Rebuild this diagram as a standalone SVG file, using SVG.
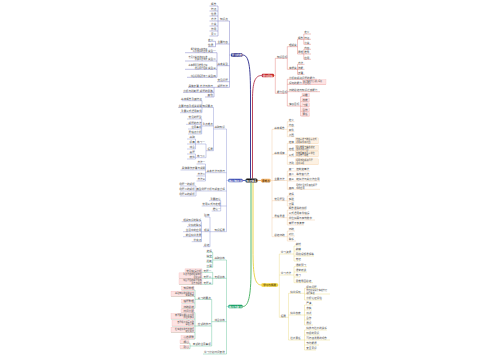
<svg xmlns="http://www.w3.org/2000/svg" width="500" height="360" viewBox="0 0 500 360">
<style>
text{font-family:"Noto Sans CJK SC","Noto Sans",sans-serif;font-size:2.6px;fill:#4a4a4a}
.e{text-anchor:end}
.s{font-size:2.1px}
.w{fill:#fff;font-weight:bold;text-anchor:middle}
.dk{fill:#6b3d0a}
.c path{fill:none;stroke-width:.35}
.c .m{stroke-width:.9}
.pk{fill:#fde3e3;stroke:#f2a5a5;stroke-width:.25}
.ob{fill:#fdf1e2;stroke:#f3cc9c;stroke-width:.25}
</style>
<rect width="500" height="360" fill="#fff"/>
<g id="connectors" class="c">
<path class="m" stroke="#28288a" d="M250.5,178.6V95C250.5,66 249,55 242.5,55"/>
<path class="m" stroke="#b5334a" d="M252.5,178.6V100C252.5,82 255,75.5 261.7,75.5"/>
<path class="m" stroke="#3fae5a" d="M251,182.4V270C251,298 248,306.5 242.7,306.5"/>
<path class="m" stroke="#e8cf3a" d="M253,182.4V250C253,276 255,285 261.3,285"/>
<path class="m" stroke="#3f51b5" d="M245.5,180.5H242.7"/>
<path class="m" stroke="#f3b46a" d="M257.5,180.5H261"/>
<path stroke="#4b4bb0" d="M231,55H229.5M229.5,21V87.3M229.5,21H218M218,6V36M218,6H209.5M218,11H209.5M218,16H209.5M218,21H209.5M218,26H209.5M218,31H209.5M218,36H209.5M229.5,44H215.5M215.5,41.3V46.7M215.5,41.3H208M215.5,46.7H208M229.5,65.7H217M217,52.7V77.3M217,52.7H185M217,61H185M217,69.3H185M217,77.3H187M229.5,81.7H217M229.5,87.3H214M214,87.3V97M214,87.3H188M214,92.3H183M214,97H205"/>
<path stroke="#6b78c9" d="M228.3,180.5H226.5M226.5,129V231.7M226.5,129H213.5M213.5,107.3V150.7M213.5,107.3H202M202,100.7V112.7M202,100.7H181.7M202,107.3H178M202,112.7H180M213.5,126H201.7M201.7,119V134M201.7,119H187M201.7,124.3H186M201.7,129H188M201.7,134H188M213.5,150.7H206M206,144V157.7M206,144H187M206,157.7H195.5M195.5,139V149M195.5,139H187M195.5,149H187M195.5,154V159M195.5,154H187M195.5,159H187M226.5,172.7H205.5M205.5,164V181M205.5,164H196.5M205.5,170H180.5M205.5,176H196.5M205.5,181H196.5M226.5,191H196M196,186V196M196,186H180M196,191H180M196,196H180M226.5,206H220.7M220.7,200.7V211M220.7,200.7H209M220.7,206H201.7M220.7,211H211.7M226.5,231.7H210M210,217V246.7M210,217H205M210,231.7H201.5M201.5,221.7V241.7M201.5,221.7H181.7M201.5,226.7H187M201.5,231.7H183M201.5,236.7H183M201.5,241.7H191.7M210,246.7H203"/>
<path stroke="#35b07a" d="M228.3,306.5H226.5M226.5,260V354M226.5,260H212.7M212.7,252.3V267.3M212.7,252.3H206.5M212.7,257.3H206.5M212.7,262.3H206.5M212.7,267.3H206.5M226.5,278.3H212.7M212.7,272.3V284.3M212.7,272.3H185M212.7,278.3H179M212.7,284.3H179M226.5,321.7H211.7M211.7,299.3V346M211.7,299.3H195M195,290V308.3M195,290H181.7M195,296.5H171M195,303H181.7M195,308.3H181.7M211.7,326H195M195,312.7V339M195,312.7H181M195,319H171M195,326H172M195,332.5H171M195,339H181M211.7,346H190M190,343.3V348.7M190,343.3H180M190,348.7H180M226.5,354H203"/>
<path stroke="#d9534f" d="M274,75.5H275.3M275.3,58.3V93.3M275.3,58.3H287.3M287.3,46.7V69.3M287.3,46.7H297.5M297.5,39.3V54M297.5,39.3H303.8M303.8,34V44.3M303.8,34H311M303.8,39.3H311M303.8,44.3H311M297.5,54H303.8M303.8,49.3V59.3M303.8,49.3H311M303.8,54H311M303.8,59.3H311M287.3,69.3H297.5M297.5,64.3V74.3M297.5,64.3H304.5M297.5,69.3H304.5M297.5,74.3H304.5M275.3,93.3H287.3M287.3,79.3V106M287.3,79.3H317M287.3,84.3H326M287.3,91.7H320M287.3,106H300.7M300.7,96.7V116M300.7,96.7H309.5M300.7,101.7H309.5M300.7,106.3H309.5M300.7,111.3H309.5M300.7,116H309.5"/>
<path stroke="#f0bd85" d="M270.7,180.5H272M272,129.3V236.7M272,129.3H287.3M287.3,121.7V136.7M287.3,121.7H294.5M287.3,126.7H294.5M287.3,131.7H294.5M287.3,136.7H294.5M272,154.3H287.3M287.3,143.3V164.3M287.3,143.3H318.5M287.3,150.7H318.5M287.3,156.7H318.5M287.3,164.3H318.5M272,180.5H287.3M287.3,171V189.3M287.3,171H310M287.3,176H310M287.3,181H320M287.3,189.3H320M272,200.7H287.3M287.3,196V206M287.3,196H294.5M287.3,201H294.5M287.3,206H294.5M272,217.7H287.3M287.3,210V225M287.3,210H306M287.3,215H309M287.3,220H315M287.3,225H304M272,236.7H287.3M287.3,231V241M287.3,231H295M287.3,236H295M287.3,241H296"/>
<path stroke="#e6d260" d="M278,285H279.3M279.3,254V317.3M279.3,254H294M294,246V261M294,246H301M294,251H301M294,256H314M294,261H300M279.3,275H294M294,266.7V282.7M294,266.7H307M294,272H307M294,277H300M294,282.7H313M279.3,317.3H288.5M288.5,293.3V340M288.5,293.3H304.5M304.5,288.3V300M304.5,288.3H318M304.5,294H330M304.5,300H322M288.5,315H304.5M304.5,305V325M304.5,305H313M304.5,310H312M304.5,315H312M304.5,320H311M304.5,325H313M288.5,340H304.5M304.5,330V350M304.5,330H327M304.5,335H320M304.5,340H330M304.5,345H319M304.5,350H316"/>
</g>
<g id="center"><rect x="245.5" y="178.6" width="12" height="3.8" rx="1.5" fill="#111"/><text class="w" x="251.5" y="181.5">知识体系</text></g>
<g id="bt"><rect x="231" y="53.3" width="11.5" height="3.4" rx="1.2" fill="#23237f"/><text class="w" x="236.75" y="56">学习内容</text></g>
<g id="bt-a"><text class="e" x="227.8" y="20.4">知识点</text></g>
<g id="bt-a1"><text class="e" x="216.3" y="5.4">概念</text></g>
<g id="bt-a2"><text class="e" x="216.3" y="10.4">特点</text></g>
<g id="bt-a3"><text class="e" x="216.3" y="15.4">性质</text></g>
<g id="bt-a4"><text class="e" x="216.3" y="20.4">方法</text></g>
<g id="bt-a5"><text class="e" x="216.3" y="25.4">分类</text></g>
<g id="bt-a6"><text class="e" x="216.3" y="30.4">作用</text></g>
<g id="bt-a7"><text class="e" x="216.3" y="35.4">意义</text></g>
<g id="bt-b"><text class="e" x="227.8" y="43.4">主要内容</text></g>
<g id="bt-b1"><text class="e" x="213.3" y="40.7">定义</text></g>
<g id="bt-b2"><text class="e" x="213.3" y="46.1">性质</text></g>
<g id="bt-c"><text class="e" x="227.8" y="65.1">基本类型</text></g>
<g id="bt-c1"><text class="e" x="215.8" y="52.1">类型一</text></g>
<g id="bt-c2"><text class="e" x="215.8" y="60.4">类型二</text></g>
<g id="bt-c3"><text class="e" x="215.8" y="68.7">类型三</text></g>
<g id="bt-c4"><text class="e" x="215.8" y="76.7">类型四</text></g>
<g id="bt-c1a"><text class="e s" x="207.3" y="49.8">概念的定义和特征<tspan x="207.3" dy="2.3">以及相关的应用</tspan></text></g>
<g id="bt-c2a"><text class="e s" x="207.3" y="58.1">常见分类方法和标准<tspan x="207.3" dy="2.3">需要重点掌握</tspan></text></g>
<g id="bt-c3a"><text class="e s" x="207.3" y="66.4">基本原理及推导过程<tspan x="207.3" dy="2.3">结合例题理解</tspan></text></g>
<g id="bt-c4a"><text class="e s" x="207.3" y="76.7">综合运用拓展练习</text></g>
<g id="bt-d"><text class="e" x="227.8" y="81.1">常见问题</text></g>
<g id="bt-e"><text class="e" x="227.8" y="86.7">解题方法</text></g>
<g id="bt-e1"><text class="e" x="212.8" y="86.7">方法与技巧</text></g>
<g id="bt-e1a"><text class="e" x="198.8" y="86.7">具体步骤</text></g>
<g id="bt-e2"><text class="e" x="212.8" y="91.7">解题的思路</text></g>
<g id="bt-e2a"><text class="e" x="198.8" y="91.7">分析与判断题</text></g>
<g id="bt-e3"><text class="e" x="212.8" y="96.4">其他</text></g>
<g id="kc"><rect x="228.3" y="178.8" width="14.4" height="3.4" rx="1.2" fill="#3f51b5"/><text class="w" x="235.5" y="181.5">核心知识点</text></g>
<g id="kc-1"><text class="e" x="224.8" y="128.4">基础知识</text></g>
<g id="kc-1a"><text class="e" x="212.8" y="106.7">知识要点</text></g>
<g id="kc-1a1"><text class="e" x="201.8" y="100.1">基本概念及其特征</text></g>
<g id="kc-1a2"><text class="e" x="201.8" y="106.7">主要内容及相关说明</text></g>
<g id="kc-1a3"><text class="e" x="201.8" y="112.1">重要公式适用条件</text></g>
<g id="kc-1b"><text class="e" x="212.8" y="125.4">重点难点</text></g>
<g id="kc-1b1"><text class="e" x="201.5" y="118.4">常见的题型</text></g>
<g id="kc-1b2"><text class="e" x="201.5" y="123.7">解题的方法</text></g>
<g id="kc-1b3"><text class="e" x="201.5" y="128.4">注意事项</text></g>
<g id="kc-1b4"><text class="e" x="201.5" y="133.4">易错点分析</text></g>
<g id="kc-1c"><text class="e" x="212.8" y="150.1">拓展</text></g>
<g id="kc-1c1"><text class="e" x="204.8" y="143.4">练习一</text></g>
<g id="kc-1c2"><text class="e" x="204.8" y="157.1">练习二</text></g>
<g id="kc-1c1a"><text class="e" x="194.8" y="138.4">基础</text></g>
<g id="kc-1c1b"><text class="e" x="194.8" y="143.4">提高</text></g>
<g id="kc-1c1c"><text class="e" x="194.8" y="148.4">综合</text></g>
<g id="kc-1c2a"><text class="e" x="194.8" y="153.4">真题</text></g>
<g id="kc-1c2b"><text class="e" x="194.8" y="158.4">模拟</text></g>
<g id="kc-2"><text class="e" x="224.8" y="172.1">基本方法与技巧</text></g>
<g id="kc-2a"><text class="e" x="205.2" y="163.4">方法一</text></g>
<g id="kc-2b"><text class="e" x="205.2" y="169.4">具体操作步骤与说明</text></g>
<g id="kc-2c"><text class="e" x="205.2" y="175.4">方法二</text></g>
<g id="kc-2d"><text class="e" x="205.2" y="180.4">方法三</text></g>
<g id="kc-3"><text class="e" x="224.8" y="190.4">典型例题分析与解答过程</text></g>
<g id="kc-3a"><text class="e" x="194.8" y="185.4">例题一的解析</text></g>
<g id="kc-3b"><text class="e" x="194.8" y="190.4">例题二的解析</text></g>
<g id="kc-3c"><text class="e" x="194.8" y="195.4">例题三的解析</text></g>
<g id="kc-4a"><text class="e" x="220.5" y="200.1">重要结论</text></g>
<g id="kc-4b"><text class="e" x="220.5" y="205.4">常用公式与定理</text></g>
<g id="kc-4c"><text class="e" x="220.5" y="210.4">推论一</text></g>
<g id="kc-5"><text class="e" x="224.8" y="231.1">知识拓展</text></g>
<g id="kc-5a"><text class="e" x="209.3" y="216.4">延伸</text></g>
<g id="kc-5b"><text class="e" x="209.3" y="231.1">相关</text></g>
<g id="kc-5b1"><text class="e" x="201.3" y="221.1">相关知识的联系</text></g>
<g id="kc-5b2"><text class="e" x="201.3" y="226.1">学科的联系</text></g>
<g id="kc-5b3"><text class="e" x="201.3" y="231.1">生活中的应用</text></g>
<g id="kc-5b4"><text class="e" x="201.3" y="236.1">前沿科学发展</text></g>
<g id="kc-5b5"><text class="e" x="201.3" y="241.1">补充点</text></g>
<g id="kc-5c"><text class="e" x="209.3" y="246.1">总结</text></g>
<g id="lx"><rect x="228.3" y="304.8" width="14.4" height="3.4" rx="1.2" fill="#18a066"/><text class="w" x="235.5" y="307.5">练习与复习</text></g>
<g id="lx-1"><text class="e" x="224.8" y="259.4">基础训练</text></g>
<g id="lx-1a"><text class="e" x="211.8" y="251.7">选择</text></g>
<g id="lx-1b"><text class="e" x="211.8" y="256.7">填空</text></g>
<g id="lx-1c"><text class="e" x="211.8" y="261.7">判断</text></g>
<g id="lx-1d"><text class="e" x="211.8" y="266.7">计算</text></g>
<g id="lx-2"><text class="e" x="224.8" y="277.7">专项训练</text></g>
<g id="lx-2a"><text class="e" x="211.3" y="271.7">专题一</text></g>
<g id="lx-2b"><text class="e" x="211.3" y="277.7">专题二</text></g>
<g id="lx-2c"><text class="e" x="211.3" y="283.7">专题三</text></g>
<g id="lx-2a1"><rect class="pk" x="185" y="268.9" width="17" height="3.4"/><text class="e" x="201.7" y="271.7">常见错误分析</text></g>
<g id="lx-2b1"><rect class="pk" x="179" y="272.9" width="23" height="5.4"/><text class="e s" x="201.7" y="275.3">重点内容的理解掌握<tspan x="201.7" dy="2.3">注意事项</tspan></text></g>
<g id="lx-2c1"><rect class="pk" x="179" y="278.9" width="23" height="5.4"/><text class="e s" x="201.7" y="281.3">综合题目的解题思路<tspan x="201.7" dy="2.3">及方法总结</tspan></text></g>
<g id="lx-3"><text class="e" x="224.8" y="321.1">综合训练</text></g>
<g id="lx-3a"><text class="e" x="210.8" y="298.7">复习的要点</text></g>
<g id="lx-3a1"><rect class="pk" x="181.7" y="286.6" width="12.3" height="3.4"/><text class="e" x="193.8" y="289.4">知识梳理</text></g>
<g id="lx-3a2"><rect class="pk" x="171" y="291.1" width="23" height="5.4"/><text class="e s" x="193.8" y="293.5">基础知识的系统复习<tspan x="193.8" dy="2.3">查漏补缺</tspan></text></g>
<g id="lx-3a3"><rect class="pk" x="181.7" y="299.6" width="12.3" height="3.4"/><text class="e" x="193.8" y="302.4">错题整理</text></g>
<g id="lx-3a4"><rect class="pk" x="181.7" y="304.9" width="12.3" height="3.4"/><text class="e" x="193.8" y="307.7">归纳总结</text></g>
<g id="lx-3b"><text class="e" x="210.8" y="325.4">应试的技巧</text></g>
<g id="lx-3b1"><rect class="pk" x="181" y="309.3" width="13" height="3.4"/><text class="e" x="193.8" y="312.1">时间分配</text></g>
<g id="lx-3b2"><rect class="pk" x="171" y="313.6" width="23" height="5.4"/><text class="e s" x="193.8" y="316">审题要仔细认真读题<tspan x="193.8" dy="2.3">抓住关键词</tspan></text></g>
<g id="lx-3b3"><rect class="pk" x="172" y="320.6" width="22" height="5.4"/><text class="e s" x="193.8" y="323">答题规范书写工整<tspan x="193.8" dy="2.3">条理清楚</tspan></text></g>
<g id="lx-3b4"><rect class="pk" x="171" y="327.1" width="23" height="5.4"/><text class="e s" x="193.8" y="329.5">检查验算的方法技巧<tspan x="193.8" dy="2.3">避免失分</tspan></text></g>
<g id="lx-3b5"><rect class="pk" x="181" y="335.6" width="13" height="3.4"/><text class="e" x="193.8" y="338.4">心态调整</text></g>
<g id="lx-3c"><text class="e" x="210.8" y="345.4">考试的注意事项</text></g>
<g id="lx-3c1"><rect class="pk" x="180" y="339.9" width="9" height="3.4"/><text class="e" x="188.8" y="342.7">细心</text></g>
<g id="lx-3c2"><rect class="pk" x="180" y="345.3" width="9" height="3.4"/><text class="e" x="188.8" y="348.1">耐心</text></g>
<g id="lx-4"><text class="e" x="224.8" y="353.4">学习计划时间安排</text></g>
<g id="mb"><rect x="261.7" y="73.8" width="12.3" height="3.4" rx="1.2" fill="#c62828"/><text class="w" x="267.85" y="76.5">学习目标</text></g>
<g id="mb-1"><text x="276.9" y="57.7">知识目标</text></g>
<g id="mb-1a"><text x="288.9" y="46.1">理解类</text></g>
<g id="mb-1a1"><text x="297.9" y="38.7">概念</text></g>
<g id="mb-1a2"><text x="297.9" y="53.4">原理</text></g>
<g id="mb-1a1a"><text x="304.2" y="33.4">定义</text></g>
<g id="mb-1a1b"><text x="304.2" y="38.7">特征</text></g>
<g id="mb-1a1c"><text x="304.2" y="43.7">分类</text></g>
<g id="mb-1a2a"><text x="304.2" y="48.7">内容</text></g>
<g id="mb-1a2b"><text x="304.2" y="53.4">推导</text></g>
<g id="mb-1a2c"><text x="304.2" y="58.7">应用</text></g>
<g id="mb-1b"><text x="288.9" y="68.7">掌握类</text></g>
<g id="mb-1b1"><text x="297.9" y="63.7">方法</text></g>
<g id="mb-1b2"><text x="297.9" y="68.7">技能</text></g>
<g id="mb-1b3"><text x="297.9" y="73.7">步骤</text></g>
<g id="mb-2"><text x="276.9" y="92.7">能力目标</text></g>
<g id="mb-2a"><text x="288.9" y="78.5">分析和解决问题的能力</text></g>
<g id="mb-2b"><text x="288.9" y="83.7">探究的能力</text></g>
<g id="mb-2b1"><rect class="pk" x="302.7" y="79.6" width="23.3" height="4.7"/><text style="font-size:1.9px" x="303.1" y="82">设计实验方案进行探究<tspan x="303.1" dy="2">得出结论</tspan></text></g>
<g id="mb-2c"><text x="288.9" y="91.1">归纳总结与知识迁移能力</text></g>
<g id="mb-2d"><text x="288.9" y="105.4">情感目标</text></g>
<g id="mb-2d1"><rect class="pk" x="302" y="93.3" width="7.5" height="3.4"/><text x="302.4" y="96.1">兴趣</text></g>
<g id="mb-2d2"><rect class="pk" x="302" y="98.3" width="7.5" height="3.4"/><text x="302.4" y="101.1">态度</text></g>
<g id="mb-2d3"><rect class="pk" x="302" y="102.9" width="7.5" height="3.4"/><text x="302.4" y="105.7">习惯</text></g>
<g id="mb-2d4"><rect class="pk" x="302" y="107.9" width="7.5" height="3.4"/><text x="302.4" y="110.7">合作</text></g>
<g id="mb-2d5"><rect class="pk" x="302" y="112.6" width="7.5" height="3.4"/><text x="302.4" y="115.4">责任</text></g>
<g id="zd"><rect x="261" y="178.8" width="9.7" height="3.4" rx="1.2" fill="#f3b46a"/><text class="w dk" x="265.85" y="181.5">重难点</text></g>
<g id="zd-1"><text x="274.2" y="128.7">基本概念</text></g>
<g id="zd-1a"><text x="288.7" y="121.1">定义</text></g>
<g id="zd-1b"><text x="288.7" y="126.1">内容</text></g>
<g id="zd-1c"><text x="288.7" y="131.1">条件</text></g>
<g id="zd-1d"><text x="288.7" y="136.1">范围</text></g>
<g id="zd-2"><text x="274.2" y="153.7">基本规律</text></g>
<g id="zd-2a"><text x="288.7" y="142.7">定律</text><rect class="ob" x="295.5" y="137.9" width="23" height="5.4"/><text class="s" x="295.9" y="140.3">内容表述与数学表达式<tspan x="295.9" dy="2.3">适用条件和范围</tspan></text></g>
<g id="zd-2b"><text x="288.7" y="150.1">定理</text><rect class="ob" x="295.5" y="145.3" width="23" height="5.4"/><text class="s" x="295.9" y="147.7">理论推导与实验验证<tspan x="295.9" dy="2.3">注意适用范围</tspan></text></g>
<g id="zd-2c"><text x="288.7" y="156.1">公式</text><rect class="ob" x="295.5" y="151.3" width="23" height="5.4"/><text class="s" x="295.9" y="153.7">各物理量的含义单位<tspan x="295.9" dy="2.3">以及符号规定</tspan></text></g>
<g id="zd-2d"><text x="288.7" y="163.7">法则</text><rect class="ob" x="295.5" y="158.9" width="23" height="5.4"/><text class="s" x="295.9" y="161.3">运用法则解决问题<tspan x="295.9" dy="2.3">注意事项</tspan></text></g>
<g id="zd-3"><text x="274.2" y="179.9">主要方法</text></g>
<g id="zd-3a"><text x="288.7" y="170.4">其一</text><text x="296.2" y="170.4">控制变量法</text></g>
<g id="zd-3b"><text x="288.7" y="175.4">其二</text><text x="296.2" y="175.4">等效替代法</text></g>
<g id="zd-3c"><text x="288.7" y="180.4">其三</text><text x="296.2" y="180.4">转换法与类比法应用</text></g>
<g id="zd-3d"><text x="288.7" y="188.7">其四</text><text class="s" x="296.2" y="186.4">理想模型法及其在解题<tspan x="296.2" dy="2.3">中的应用</tspan></text></g>
<g id="zd-4"><text x="274.2" y="200.1">常见题型</text></g>
<g id="zd-4a"><text x="288.7" y="195.4">选择</text></g>
<g id="zd-4b"><text x="288.7" y="200.4">实验</text></g>
<g id="zd-4c"><text x="288.7" y="205.4">计算</text></g>
<g id="zd-5"><text x="274.2" y="217.1">易错易混</text></g>
<g id="zd-5a"><text x="288.7" y="209.4">概念混淆的辨析</text></g>
<g id="zd-5b"><text x="288.7" y="214.4">公式适用条件错误</text></g>
<g id="zd-5c"><text x="288.7" y="219.4">单位换算与有效数字</text></g>
<g id="zd-5d"><text x="288.7" y="224.4">审题不够清楚</text></g>
<g id="zd-6"><text x="274.2" y="236.1">总结归纳</text></g>
<g id="zd-6a"><text x="288.7" y="230.4">归纳</text></g>
<g id="zd-6b"><text x="288.7" y="235.4">对比</text></g>
<g id="zd-6c"><text x="288.7" y="240.4">联系</text></g>
<g id="tz"><rect x="261.3" y="283.3" width="16.7" height="3.4" rx="1.2" fill="#f2d23c"/><text class="w" x="269.65" y="286" style="fill:#5a4a00">学习与拓展</text></g>
<g id="tz-1"><text x="280.7" y="253.4">学习资源</text></g>
<g id="tz-1a"><text x="295.7" y="245.4">教材</text></g>
<g id="tz-1b"><text x="295.7" y="250.4">教辅</text></g>
<g id="tz-1c"><text x="295.7" y="255.4">网络视频课程等</text></g>
<g id="tz-1d"><text x="295.7" y="260.4">笔记</text></g>
<g id="tz-2"><text x="280.7" y="274.4">学习方法</text></g>
<g id="tz-2a"><text x="295.7" y="266.1">课前预习</text></g>
<g id="tz-2b"><text x="295.7" y="271.4">课堂听讲</text></g>
<g id="tz-2c"><text x="295.7" y="276.4">练习</text></g>
<g id="tz-2d"><text x="295.7" y="282.1">思维导图总结</text></g>
<g id="tz-3"><text x="280.7" y="316.7">拓展</text></g>
<g id="tz-3a"><text x="290.2" y="292.7">科学探究</text></g>
<g id="tz-3a1"><text x="306.2" y="287.7">提出问题</text></g>
<g id="tz-3a2"><text class="s" x="306.2" y="291.3">作出假设设计实验方案<tspan x="306.2" dy="2.3">进行实验</tspan></text></g>
<g id="tz-3a3"><text x="306.2" y="299.4">分析论证评估</text></g>
<g id="tz-3b"><text x="290.2" y="314.4">科学态度</text></g>
<g id="tz-3b1"><text x="306.2" y="304.4">严谨</text></g>
<g id="tz-3b2"><text x="306.2" y="309.4">求实</text></g>
<g id="tz-3b3"><text x="306.2" y="314.4">创新</text></g>
<g id="tz-3b4"><text x="306.2" y="319.4">合作</text></g>
<g id="tz-3b5"><text x="306.2" y="324.4">质疑</text></g>
<g id="tz-3c"><text x="290.2" y="339.4">社会责任</text></g>
<g id="tz-3c1"><text x="306.2" y="329.4">科技与社会的关系</text></g>
<g id="tz-3c2"><text x="306.2" y="334.4">环保的意识</text></g>
<g id="tz-3c3"><text x="306.2" y="339.4">可持续发展的观念</text></g>
<g id="tz-3c4"><text x="306.2" y="344.4">节约能源</text></g>
<g id="tz-3c5"><text x="306.2" y="349.4">安全意识</text></g>
</svg>
